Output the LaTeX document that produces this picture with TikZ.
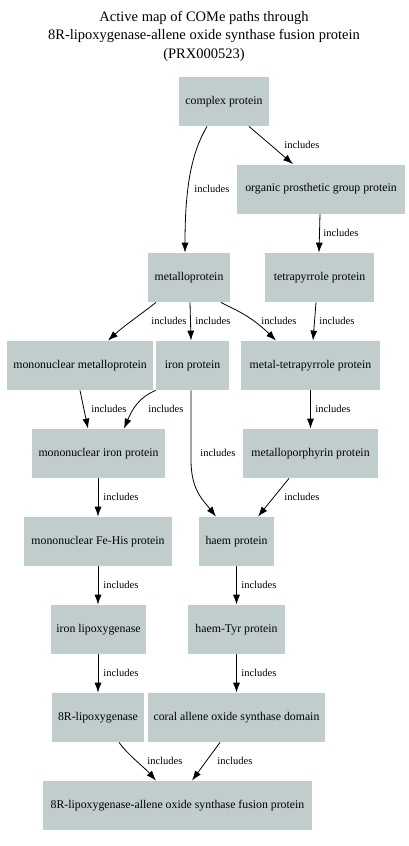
\documentclass[tikz,border=0pt]{standalone}
\usepackage{fontspec}
\setmainfont{Liberation Serif}
\usetikzlibrary{arrows.meta}
\definecolor{boxgray}{HTML}{C1CDCD}
\tikzset{
	box/.style={fill=boxgray,minimum height=49pt,inner sep=0pt,font=\fontsize{11.8}{14}\selectfont},
	lbl/.style={anchor=west,inner sep=0pt,font=\fontsize{10.5}{12}\selectfont},
}
% one "includes" connector: path, label name, label position
\newcommand{\incl}[3]
{\draw[->] #1 node[lbl] (#2) at #3 {includes};
}

\begin{document}
\begin{tikzpicture}[x=1pt,y=-1pt,>={Latex[length=10pt,width=7pt]},line width=0.8pt]
\useasboundingbox (0,0) rectangle (408,846);

\node[align=center,font=\fontsize{14.5}{18.5}\selectfont] (title) at (204,36)
	{Active map of COMe paths through\\8R-lipoxygenase-allene oxide synthase fusion protein\\(PRX000523)};

% nodes
\node[box,minimum width=90pt] (complex) at (224,101.5) {complex protein};
\node[box,minimum width=168pt] (organic) at (321,189) {organic prosthetic group protein};
\node[box,minimum width=82pt] (metallo) at (189,277.5) {metalloprotein};
\node[box,minimum width=109pt] (tetra) at (319.5,277.5) {tetrapyrrole protein};
\node[box,minimum width=146pt] (monometallo) at (80,365.5) {mononuclear metalloprotein};
\node[box,minimum width=73pt] (iron) at (192.5,365.5) {iron protein};
\node[box,minimum width=139pt] (metaltetra) at (310.5,365.5) {metal-tetrapyrrole protein};
\node[box,minimum width=133pt] (monoiron) at (98.5,453.5) {mononuclear iron protein};
\node[box,minimum width=135pt] (porph) at (310.5,453.5) {metalloporphyrin protein};
\node[box,minimum width=148pt] (fehis) at (98,541.5) {mononuclear Fe-His protein};
\node[box,minimum width=75pt] (haem) at (236.5,541.5) {haem protein};
\node[box,minimum width=95pt] (ironlox) at (98.5,629.5) {iron lipoxygenase};
\node[box,minimum width=97pt] (haemtyr) at (236.5,629.5) {haem-Tyr protein};
\node[box,minimum width=92pt] (lox) at (98,717.5) {8R-lipoxygenase};
\node[box,minimum width=177pt] (coral) at (236.5,717.5) {coral allene oxide synthase domain};
\node[box,minimum width=269pt] (fusion) at (177.5,805.5) {8R-lipoxygenase-allene oxide synthase fusion protein};

% connectors
\incl{([xshift=-17pt]complex.south) .. controls (192,152) and (185,185) .. ([xshift=-4pt]metallo.north)}{l1}{(194,189)}
\incl{([xshift=25pt]complex.south) -- ([xshift=-28pt]organic.north)}{l2}{(284,145)}
\incl{([xshift=-1pt]organic.south) -- ([xshift=-0.5pt]tetra.north)}{l3}{(323,233)}
\incl{([xshift=-33pt]metallo.south) .. controls (140,315) and (125,325) .. ([xshift=28pt]monometallo.north)}{l4}{(151,321)}
\incl{([xshift=1pt]metallo.south) -- ([xshift=-1.5pt]iron.north)}{l5}{(195,321)}
\incl{([xshift=32pt]metallo.south) .. controls (235,310) and (250,315) .. ([xshift=-34.5pt]metaltetra.north)}{l6}{(261,321)}
\incl{([xshift=-3.5pt]tetra.south) -- ([xshift=2.5pt]metaltetra.north)}{l7}{(319,321)}
\incl{(monometallo.south) -- ([xshift=-10.5pt]monoiron.north)}{l8}{(91,409)}
\incl{(iron.south west) .. controls (138,398) and (132,410) .. ([xshift=25.5pt]monoiron.north)}{l9}{(148,409)}
\incl{([xshift=-1.5pt]iron.south) -- (191,460) .. controls (191,490) and (203,500) .. ([xshift=-20.5pt]haem.north)}{l10}{(200,453)}
\incl{(metaltetra.south) -- (porph.north)}{l11}{(315,409)}
\incl{([xshift=-21.5pt]porph.south) -- ([xshift=21.5pt]haem.north)}{l12}{(284,497)}
\incl{([xshift=-0.5pt]monoiron.south) -- (fehis.north)}{l13}{(103,497)}
\incl{(fehis.south) -- ([xshift=-0.5pt]ironlox.north)}{l14}{(103,585)}
\incl{(haem.south) -- (haemtyr.north)}{l15}{(241,585)}
\incl{([xshift=-0.5pt]ironlox.south) -- (lox.north)}{l16}{(103,673)}
\incl{(haemtyr.south) -- (coral.north)}{l17}{(241,673)}
\incl{([xshift=21pt]lox.south) .. controls (128,755) and (145,768) .. ([xshift=-21.5pt]fusion.north)}{l18}{(147,761)}
\incl{([xshift=-16.5pt]coral.south) -- ([xshift=14.5pt]fusion.north)}{l19}{(217,761)}
\end{tikzpicture}
\end{document}
